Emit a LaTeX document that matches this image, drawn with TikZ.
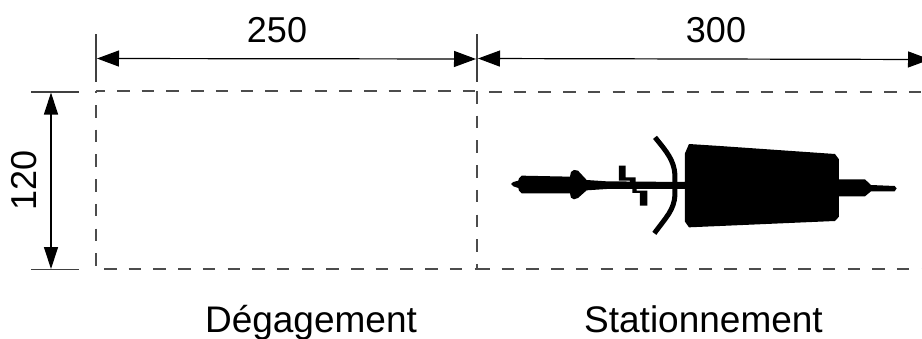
\documentclass[tikz,border=0pt]{standalone}
\usepackage{fontspec}
\setmainfont{Liberation Sans}
\usetikzlibrary{arrows.meta}
\tikzset{
  lbl/.style={inner sep=0pt,font=\fontsize{36}{36}\selectfont,text=black},
  biglbl/.style={inner sep=0pt,anchor=base,font=\fontsize{37}{37}\selectfont,text=black},
  tick/.style={draw=black!75,line width=1.2pt},
  dim/.style={draw=black,line width=1.2pt,{Triangle[length=22pt,width=16pt]}-{Triangle[length=22pt,width=16pt]}},
  dashline/.style={draw=black!70,line width=1.2pt,dash pattern=on 12.5pt off 12.2pt},
  solidblack/.style={fill=black,draw=none}
}
\begin{document}
\begin{tikzpicture}[x=1pt,y=-1pt]
\useasboundingbox (0,0) rectangle (922,338);
% reference coordinates
\coordinate (tickAa) at (96,34); \coordinate (tickAb) at (96,82);
\coordinate (tickBa) at (477,34); \coordinate (tickBb) at (477,82);
\coordinate (dimA1) at (97,58.5); \coordinate (dimA2) at (476,59);
\coordinate (dimB1) at (478,58.5); \coordinate (dimB2) at (930,59.5);
\coordinate (tickCa) at (31,92); \coordinate (tickCb) at (79,92);
\coordinate (tickDa) at (31,269.5); \coordinate (tickDb) at (79,269.5);
\coordinate (dimC1) at (51,92.5); \coordinate (dimC2) at (51,269);
\coordinate (tl) at (96,91); \coordinate (tm) at (477,91);
\coordinate (tm2) at (489,92); \coordinate (tr) at (922,92);
\coordinate (bl) at (96,269); \coordinate (bl2) at (104,269);
\coordinate (bm) at (477,269); \coordinate (br) at (922,269);
% dimension lines
\draw[tick] (tickAa) -- (tickAb);
\draw[tick] (tickBa) -- (tickBb);
\draw[tick] (tickCa) -- (tickCb);
\draw[tick] (tickDa) -- (tickDb);
\draw[dim] (dimA1) -- (dimA2);
\draw[dim] (dimB1) -- (dimB2);
\draw[dim,{Triangle[length=22pt,width=14pt]}-{Triangle[length=22pt,width=14pt]}] (dimC1) -- (dimC2);
% dashed outline
\draw[dashline,dash phase=3.7pt] (tl) -- (tm);
\draw[dashline] (tm2) -- (tr);
\draw[dashline,dash phase=10.7pt] (tl) -- (bl);
\draw[dashline] (tm) -- (bm);
\draw[dashline] (bl2) -- (bm);
\draw[dashline] (bm) -- (br);
% bicycle
\begin{scope}[shift={(490,120)},x=0.3333pt,y=-0.3333pt]
\fill[solidblack] (63,192) -- (70,186) -- (85,182) -- (87,175) -- (95,167) -- (240,170) -- (243,156) -- (252,150) -- (264,152) -- (290,180) -- (350,184) -- (585,186) -- (585,100) -- (597,72) -- (690,78) -- (1035,102) -- (1047,118) -- (1047,178) -- (1125,178) -- (1143,195) -- (1214,198) -- (1220,205) -- (1214,214) -- (1143,214) -- (1125,229) -- (1047,229) -- (1047,290) -- (1035,303) -- (690,318) -- (597,322) -- (585,305) -- (585,207) -- (350,207) -- (290,211) -- (264,234) -- (252,238) -- (243,233) -- (240,220) -- (95,220) -- (87,212) -- (85,204) -- (70,199) -- cycle;
\draw[black,line width=5pt] (495,52) .. controls (530,95) and (552,120) .. (555,165) -- (555,225) .. controls (552,270) and (530,290) .. (493,340);
\fill[solidblack] (387,137) -- (407,137) -- (407,172) -- (437,172) -- (437,190) -- (420,190) -- (420,182) -- (387,182) -- cycle;
\fill[solidblack] (427,205) -- (440,205) -- (440,212) -- (472,212) -- (472,257) -- (450,257) -- (450,219) -- (427,219) -- cycle;
\end{scope}
% labels
\node[lbl] (n250) at (277,30) {250};
\node[lbl] (n300) at (716,30) {300};
\node[lbl,rotate=90] (n120) at (24,180) {120};
\node[biglbl] (deg) at (311,332) {Dégagement};
\node[biglbl] (sta) at (703.5,332) {Stationnement};
\end{tikzpicture}
\end{document}
